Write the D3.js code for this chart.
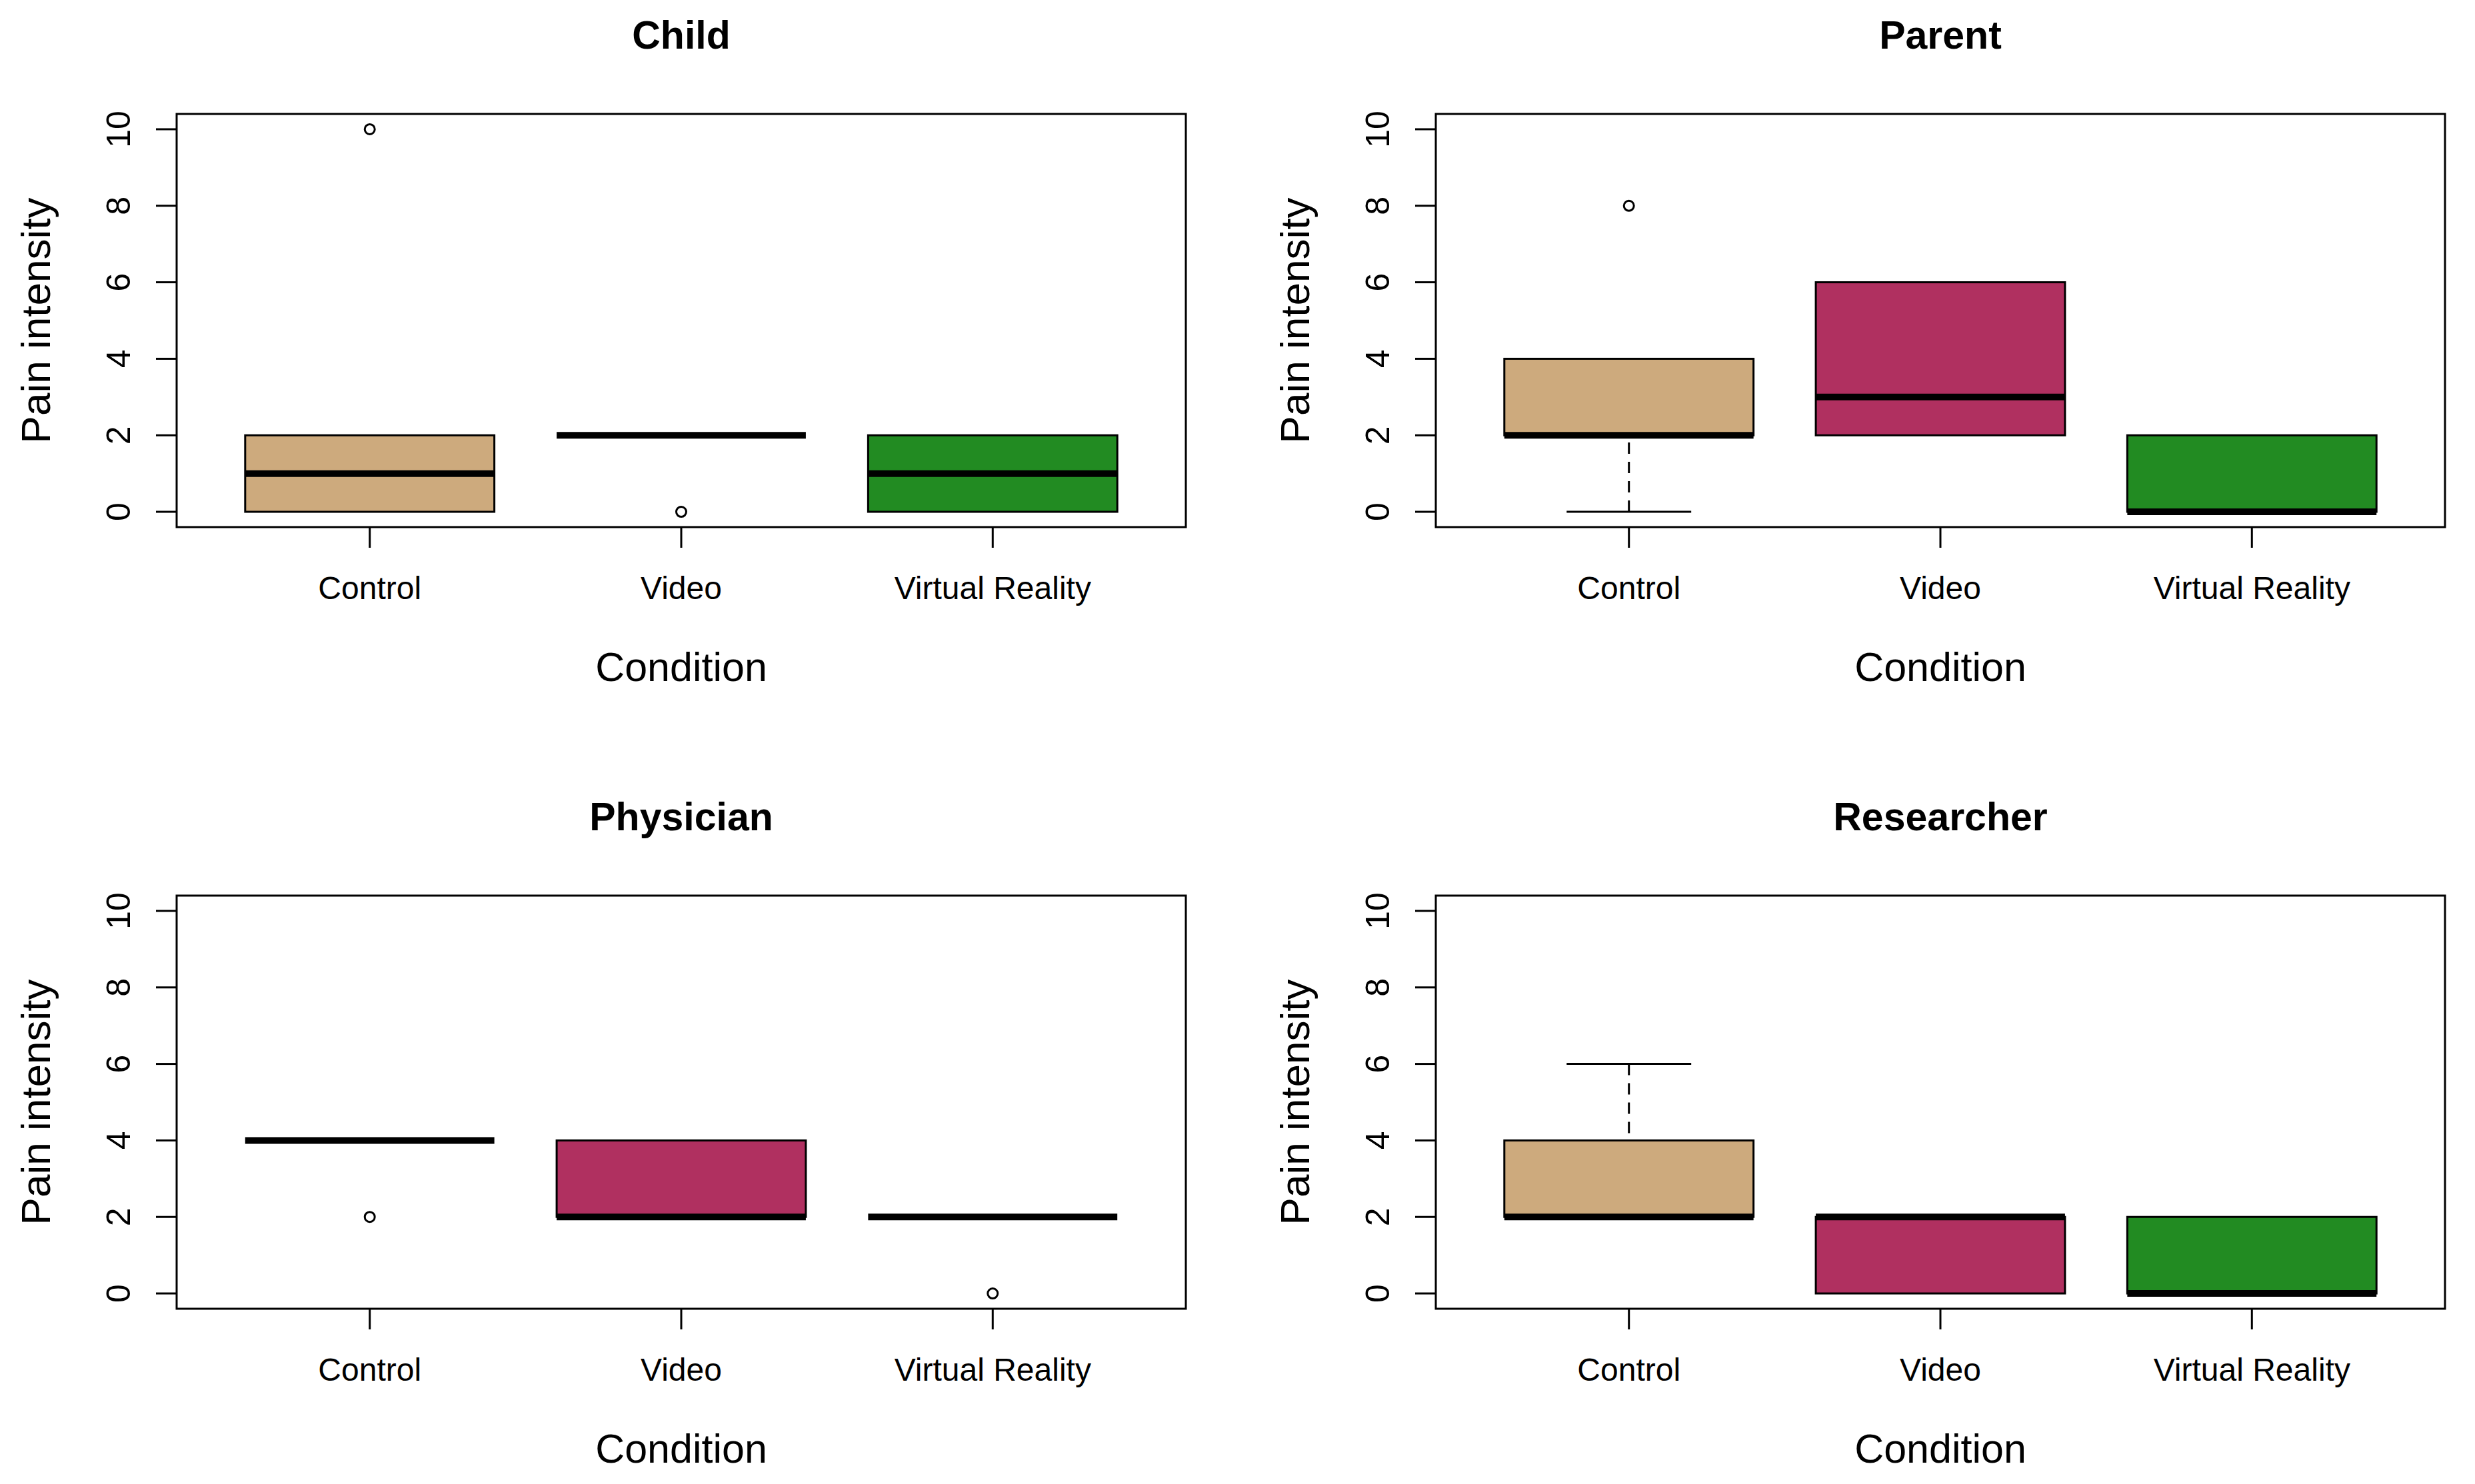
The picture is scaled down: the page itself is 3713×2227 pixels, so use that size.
<!DOCTYPE html>
<html>
<head>
<meta charset="utf-8">
<script src="https://cdn.jsdelivr.net/npm/d3@7"></script>
<style>
  body { margin: 0; background: #fff; }
  svg { display: block; }
  text { font-family: "Liberation Sans", Arial, sans-serif; fill: #000; }
</style>
</head>
<body>
<script>
// values
const panels = ["Child", "Parent", "Physician", "Researcher"]
const conditions = ["Control", "Video", "Virtual Reality"]
const q1 = [[0, 2, 0], [2, 2, 0], [4, 2, 2], [2, 0, 0]]
const medians = [[1, 2, 1], [2, 3, 0], [4, 2, 2], [2, 2, 0]]
const q3 = [[2, 2, 2], [4, 6, 2], [4, 4, 2], [4, 2, 2]]
const whiskLo = [[0, 2, 0], [0, 2, 0], [4, 2, 2], [2, 0, 0]]
const whiskHi = [[2, 2, 2], [4, 6, 2], [4, 4, 2], [6, 2, 2]]
const outliers = [[[10], [0], []], [[8], [], []], [[2], [], [0]], [[], [], []]]
const yTicks = [0, 2, 4, 6, 8, 10]
const fills = ["#CDAA7D", "#B03060", "#228B22"]

const width = 3713
const height = 2227
const plotW = 1514
const plotH = 620
const origin = { x: 265, y: 171 }
const step = { x: 1889, y: 1173 }

const svg = d3.select("body").append("svg")
    .attr("width", width)
    .attr("height", height)

// R style: 4% padding on each side
const x = d3.scaleLinear().domain([0.38, 3.62]).range([0, plotW])
const y = d3.scaleLinear().domain([-0.4, 10.4]).range([plotH, 0])
const boxW = x(1.8) - x(1.0)

panels.forEach((name, p) => {
    const g = svg.append("g")
        .attr("transform", `translate(${origin.x + (p % 2) * step.x},${origin.y + Math.floor(p / 2) * step.y})`)

    const boxes = conditions.map((c, i) => ({
        cond: c, i,
        lo: q1[p][i], med: medians[p][i], hi: q3[p][i],
        wlo: whiskLo[p][i], whi: whiskHi[p][i],
        out: outliers[p][i]
    }))

    const b = g.selectAll("g.box").data(boxes).enter().append("g").attr("class", "box")

    // whiskers
    b.each(function(d) {
        const s = d3.select(this)
        const cx = x(d.i + 1)
        const pairs = [[d.wlo, d.lo], [d.whi, d.hi]].filter(w => w[0] !== w[1])
        pairs.forEach(w => {
            s.append("line")
                .attr("x1", cx).attr("x2", cx)
                .attr("y1", y(w[0])).attr("y2", y(w[1]))
                .attr("stroke", "#000").attr("stroke-width", 3)
                .attr("stroke-dasharray", "17,12")
            s.append("line")
                .attr("x1", cx - boxW / 4).attr("x2", cx + boxW / 4)
                .attr("y1", y(w[0])).attr("y2", y(w[0]))
                .attr("stroke", "#000").attr("stroke-width", 3)
        })
    })

    b.append("rect")
        .attr("x", d => x(d.i + 1) - boxW / 2)
        .attr("width", boxW)
        .attr("y", d => y(d.hi))
        .attr("height", d => y(d.lo) - y(d.hi))
        .attr("fill", d => fills[d.i])
        .attr("stroke", "#000")
        .attr("stroke-width", 3)

    b.append("line")
        .attr("x1", d => x(d.i + 1) - boxW / 2)
        .attr("x2", d => x(d.i + 1) + boxW / 2)
        .attr("y1", d => y(d.med))
        .attr("y2", d => y(d.med))
        .attr("stroke", "#000")
        .attr("stroke-width", 10)

    b.selectAll("circle")
        .data(d => d.out.map(v => ({ v, i: d.i })))
        .enter().append("circle")
        .attr("cx", d => x(d.i + 1))
        .attr("cy", d => y(d.v))
        .attr("r", 7.5)
        .attr("fill", "none")
        .attr("stroke", "#000")
        .attr("stroke-width", 3)

    // frame
    g.append("rect")
        .attr("width", plotW).attr("height", plotH)
        .attr("fill", "none").attr("stroke", "#000").attr("stroke-width", 3)

    // y axis
    const ya = g.append("g")
    ya.selectAll("line").data(yTicks).enter().append("line")
        .attr("x1", -31).attr("x2", 0)
        .attr("y1", d => y(d)).attr("y2", d => y(d))
        .attr("stroke", "#000").attr("stroke-width", 3)
    ya.selectAll("text").data(yTicks).enter().append("text")
        .attr("transform", d => `translate(-87,${y(d)}) rotate(-90)`)
        .attr("text-anchor", "middle")
        .attr("dominant-baseline", "central")
        .style("font-size", "50px")
        .text(d => d)

    // x axis
    const xa = g.append("g")
    xa.selectAll("line").data(conditions).enter().append("line")
        .attr("x1", (d, i) => x(i + 1)).attr("x2", (d, i) => x(i + 1))
        .attr("y1", plotH).attr("y2", plotH + 31)
        .attr("stroke", "#000").attr("stroke-width", 3)
    xa.selectAll("text").data(conditions).enter().append("text")
        .attr("x", (d, i) => x(i + 1))
        .attr("y", plotH + 91)
        .attr("text-anchor", "middle")
        .attr("dominant-baseline", "central")
        .style("font-size", "48px")
        .text(d => d)

    g.append("text")
        .attr("x", plotW / 2).attr("y", plotH + 210)
        .attr("text-anchor", "middle")
        .attr("dominant-baseline", "central")
        .style("font-size", "61px")
        .text("Condition")

    g.append("text")
        .attr("transform", `translate(-212,${plotH / 2}) rotate(-90)`)
        .attr("text-anchor", "middle")
        .attr("dominant-baseline", "central")
        .style("font-size", "62px")
        .text("Pain intensity")

    g.append("text")
        .attr("x", plotW / 2).attr("y", -118)
        .attr("text-anchor", "middle")
        .attr("dominant-baseline", "central")
        .style("font-size", "59px")
        .style("font-weight", "bold")
        .text(name)
})
</script>
</body>
</html>
